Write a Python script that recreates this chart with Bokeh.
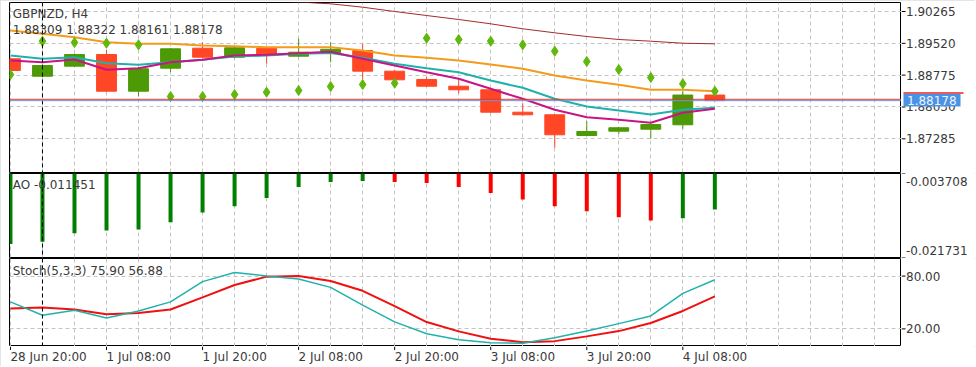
from bokeh.plotting import figure
from bokeh.layouts import column, row
from bokeh.models import Range1d, FixedTicker, Span, Label, ColumnDataSource
from bokeh.embed import file_html
from bokeh.resources import INLINE
from bokeh.core.properties import value

# ---------------- data ----------------
symbol_title = "GBPNZD, H4"
ohlc_title = "1.88309 1.88322 1.88161 1.88178"
ao_title = "AO -0.011451"
stoch_title = "Stoch(5,3,3) 75.90 56.88"

time_labels = ["28 Jun 20:00", "1 Jul 08:00", "1 Jul 20:00", "2 Jul 08:00",
               "2 Jul 20:00", "3 Jul 08:00", "3 Jul 20:00", "4 Jul 08:00"]
label_bars = [0, 3, 6, 9, 12, 15, 18, 21]

opens = [1.89158, 1.88750, 1.88985, 1.89258, 1.88399, 1.88938, 1.89406, 1.89195,
         1.89406, 1.89219, 1.89298, 1.89352, 1.88868, 1.88673, 1.88516, 1.88432,
         1.87908, 1.87847, 1.87362, 1.87463, 1.87510, 1.87613, 1.88309]
highs = [1.89170, 1.89030, 1.89280, 1.89368, 1.88960, 1.89410, 1.89546, 1.89440,
         1.89430, 1.89626, 1.89546, 1.89509, 1.88900, 1.88744, 1.88673, 1.88450,
         1.88118, 1.87860, 1.87697, 1.87560, 1.87640, 1.88400, 1.88322]
lows = [1.88870, 1.88730, 1.88970, 1.88380, 1.88275, 1.88844, 1.89180, 1.89170,
        1.89041, 1.89200, 1.89078, 1.88690, 1.88650, 1.88500, 1.88353, 1.87890,
        1.87830, 1.87074, 1.87350, 1.87400, 1.87285, 1.87519, 1.88161]
closes = [1.88884, 1.89001, 1.89258, 1.88399, 1.88924, 1.89392, 1.89195, 1.89415,
          1.89235, 1.89312, 1.89380, 1.88868, 1.88666, 1.88516, 1.88432, 1.87908,
          1.87847, 1.87379, 1.87456, 1.87543, 1.87620, 1.88309, 1.88178]

ma_orange = [1.89820, 1.89743, 1.89663, 1.89546, 1.89509, 1.89509, 1.89469, 1.89453,
             1.89429, 1.89429, 1.89429, 1.89352, 1.89235, 1.89181, 1.89118, 1.89024,
             1.88924, 1.88767, 1.88650, 1.88549, 1.88432, 1.88432, 1.88399]
ma_teal = [1.89235, 1.89158, 1.89195, 1.89055, 1.89017, 1.89078, 1.89134, 1.89212,
           1.89235, 1.89275, 1.89294, 1.89181, 1.89041, 1.88938, 1.88844, 1.88650,
           1.88479, 1.88221, 1.88041, 1.87948, 1.87854, 1.87964, 1.88011]
ma_magenta = [1.89118, 1.89078, 1.89141, 1.88900, 1.88938, 1.89078, 1.89134, 1.89235,
              1.89251, 1.89289, 1.89324, 1.89158, 1.89001, 1.88844, 1.88690, 1.88455,
              1.88221, 1.87964, 1.87791, 1.87730, 1.87660, 1.87894, 1.87987]
ma_darkred = [1.90850, 1.90810, 1.90770, 1.90730, 1.90690, 1.90650, 1.90610, 1.90570,
              1.90525, 1.90487, 1.90445, 1.90366, 1.90265, 1.90171, 1.90078, 1.89977,
              1.89860, 1.89766, 1.89680, 1.89610, 1.89570, 1.89523, 1.89509]
sar = [1.88790, 1.89570, 1.89539, 1.89523, 1.89485, 1.88275, 1.88275, 1.88322,
       1.88376, 1.88416, 1.88509, 1.88556, 1.88587, 1.89640, 1.89610, 1.89570,
       1.89485, 1.89336, 1.89095, 1.88907, 1.88720, 1.88573, 1.88399]

bid_price = 1.88178
ask_price = 1.88210
price_ticks = [1.87285, 1.88030, 1.88775, 1.89520, 1.90265]
price_tick_labels = ["1.87285", "1.88030", "1.88775", "1.89520", "1.90265"]

ao = [-0.01884, -0.01834, -0.01655, -0.01596, -0.01574, -0.01417, -0.01207, -0.01071,
      -0.00898, -0.00660, -0.00552, -0.00531, -0.00553, -0.00574, -0.00660, -0.00790,
      -0.00926, -0.01071, -0.01179, -0.01309, -0.01380, -0.01330, -0.011451]
ao_ticks = [-0.021731, -0.003708]
ao_tick_labels = ["-0.021731", "-0.003708"]

stoch_main = [50.7, 35.5, 41.2, 32.4, 40.4, 50.7, 73.7, 84.0, 80.2, 76.7, 67.2, 47.0,
              28.0, 14.5, 7.7, 4.2, 3.8, 10.0, 17.5, 26.0, 34.7, 60.4, 75.90]
stoch_signal = [43.2, 44.3, 42.0, 36.7, 38.1, 42.0, 55.8, 69.9, 79.4, 80.2, 74.5, 63.3,
                45.8, 27.8, 17.2, 8.8, 4.9, 6.1, 11.5, 17.5, 26.7, 40.4, 56.88]
stoch_ticks = [20, 80]
stoch_tick_labels = ["20.00", "80.00"]

# ---------------- styling ----------------
CW = 901          # chart figure width (frame 9..901)
AW = 74           # axis strip width
LB = 9
FONT = "DejaVu Sans"
TXT = "#3a3a3a"
GRID = "#c4c4c4"
UP = "#4c9a06"
DOWN = "#ff4726"

n = len(opens)
idx = list(range(n))
x_range = Range1d(-0.03, 27.83)
grid_ticks = list(range(0, 28))


def chart_fig(height, y_range, top_b, bottom_b):
    p = figure(width=CW, height=height, x_range=x_range, y_range=y_range,
               output_backend="svg", toolbar_location=None, title=None,
               x_axis_location=None, y_axis_location=None,
               min_border_left=LB, min_border_right=0,
               min_border_top=top_b, min_border_bottom=bottom_b,
               background_fill_color="white", border_fill_color="white")
    p.outline_line_color = "black"
    p.outline_line_alpha = 1
    p.xgrid.ticker = FixedTicker(ticks=grid_ticks)
    p.xgrid.grid_line_color = GRID
    p.xgrid.grid_line_dash = "4 3"
    p.ygrid.grid_line_color = GRID
    p.ygrid.grid_line_dash = "4 3"
    p.add_layout(Span(location=1, dimension="height", line_color="black",
                      line_dash="4 3", line_width=1))
    return p


def axis_fig(height, y_range, top_b, bottom_b, ticks, labels, offsets=None):
    a = figure(width=AW, height=height, x_range=Range1d(0, AW), y_range=y_range,
               output_backend="svg", toolbar_location=None, title=None,
               x_axis_location=None, y_axis_location=None,
               min_border_left=0, min_border_right=0,
               min_border_top=top_b, min_border_bottom=bottom_b,
               background_fill_color="white", border_fill_color="white")
    a.outline_line_color = None
    a.grid.visible = False
    a.segment(x0=[0] * len(ticks), y0=ticks, x1=[4] * len(ticks), y1=ticks,
              line_color="black", line_width=1)
    if offsets is None:
        offsets = [0] * len(ticks)
    for t, lbl, off in zip(ticks, labels, offsets):
        a.text(x=[4.5], y=[t], text=[lbl], text_align="left", text_baseline="middle",
               y_offset=off, text_font=value(FONT), text_font_size="12px", text_color=TXT)
    return a


def lab(x, y, text, **kw):
    opts = dict(text_baseline="middle", text_font=FONT, text_font_size="12px", text_color=TXT)
    opts.update(kw)
    return Label(x=x, y=y, text=text, **opts)


# ---------------- price panel ----------------
price_range = Range1d(1.86496, 1.90476)
p1 = chart_fig(173, price_range, 2, 1)
p1.ygrid.ticker = FixedTicker(ticks=price_ticks)

colors = [UP if c >= o else DOWN for o, c in zip(opens, closes)]
src = ColumnDataSource(dict(x=idx, o=opens, h=highs, l=lows, c=closes,
                            top=[max(o, c) for o, c in zip(opens, closes)],
                            bot=[min(o, c) for o, c in zip(opens, closes)],
                            color=colors))
p1.segment(x0="x", y0="h", x1="x", y1="l", color="color", line_width=1, source=src)
p1.vbar(x="x", width=0.62, top="top", bottom="bot", fill_color="color",
        line_color="color", source=src)

p1.line(idx, ma_darkred, line_color="#a52a2a", line_width=1)
p1.line(idx, ma_orange, line_color="#f39c1c", line_width=2)
p1.line(idx, ma_teal, line_color="#20b2aa", line_width=2)
p1.line(idx, ma_magenta, line_color="#c71585", line_width=2)
p1.scatter(idx, sar, marker="diamond", size=10, fill_color="#5fb80a", line_color="#5fb80a")

p1.add_layout(Span(location=ask_price, dimension="width", line_color="#d43c3c", line_width=1))
p1.add_layout(Span(location=bid_price, dimension="width", line_color="#7b8fd0", line_width=1))

p1.add_layout(lab(0.07, 1.90212, symbol_title))
p1.add_layout(lab(0.07, 1.89821, ohlc_title))

a1 = axis_fig(173, price_range, 2, 1, price_ticks, price_tick_labels)
ppx = (price_range.end - price_range.start) / 170.0
# current-price marker on the price scale
a1.quad(left=[2], right=[62], bottom=[bid_price + 6.9 * ppx], top=[bid_price + 8.4 * ppx],
        fill_color="#ff1a1a", line_color=None)
a1.quad(left=[2], right=[59], bottom=[bid_price - 5.8 * ppx], top=[bid_price + 6.9 * ppx],
        fill_color="#4a92e4", line_color=None)
a1.text(x=[5.5], y=[bid_price], text=["1.88178"], text_align="left", text_baseline="middle",
        text_font=value(FONT), text_font_size="12px", text_color="#eef4ff")

# ---------------- AO panel ----------------
ao_range = Range1d(ao_ticks[0], ao_ticks[1])
p2 = chart_fig(85, ao_range, 0, 1)
p2.ygrid.visible = False
ao_colors = ["#008000"] + ["#008000" if ao[i] > ao[i - 1] else "#ff0000" for i in range(1, n)]
p2.vbar(x=idx, width=0.125, top=0, bottom=ao, fill_color=ao_colors, line_color=None)
p2.add_layout(lab(0.07, -0.006236, ao_title))
a2 = axis_fig(85, ao_range, 0, 1, ao_ticks, ao_tick_labels, [-7.5, 7.5])

# ---------------- Stochastic panel ----------------
st_range = Range1d(0, 100)
p3 = chart_fig(88, st_range, 0, 0)
p3.ygrid.ticker = FixedTicker(ticks=stoch_ticks)
p3.line(idx, stoch_signal, line_color="#f01010", line_width=2)
p3.line(idx, stoch_main, line_color="#20b2aa", line_width=1.5)
p3.add_layout(lab(0.07, 86.0, stoch_title))
a3 = axis_fig(88, st_range, 0, 0, stoch_ticks, stoch_tick_labels)

# ---------------- time axis strip ----------------
p4 = figure(width=CW + AW, height=20, x_range=x_range, y_range=Range1d(0, 20),
            output_backend="svg", toolbar_location=None, title=None,
            x_axis_location=None, y_axis_location=None,
            min_border_left=LB, min_border_right=AW, min_border_top=0, min_border_bottom=0)
p4.outline_line_color = None
p4.grid.visible = False
p4.segment(x0=label_bars, y0=[20] * len(label_bars), x1=label_bars,
           y1=[16.5] * len(label_bars), line_color="black", line_width=1)
p4.text(x=label_bars, y=[9.3] * len(label_bars), text=time_labels,
        text_align="left", text_baseline="middle", text_font=value(FONT),
        text_font_size="12px", text_color=TXT)

layout = column(row(p1, a1, spacing=0), row(p2, a2, spacing=0), row(p3, a3, spacing=0),
                p4, spacing=0,
                styles={"outline": "1px solid #dcdcdc", "outline-offset": "-1px"})

open("out.html", "w").write(file_html(layout, INLINE))
